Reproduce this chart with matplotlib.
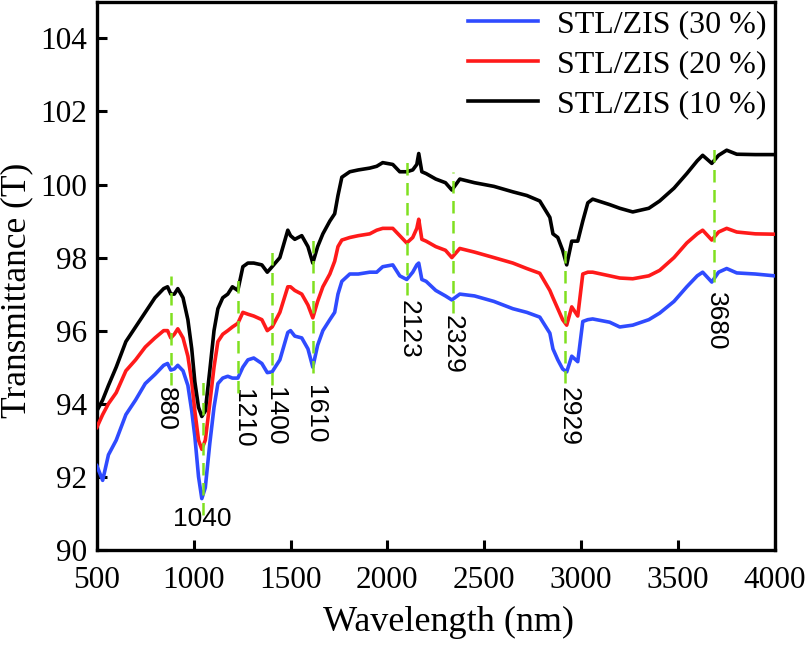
import numpy as np
import matplotlib.pyplot as plt

# ---- data ----
wavelength = [500, 530, 560, 600, 650, 700, 750, 800, 845, 865, 882, 900, 918, 945, 970, 990,
              1006, 1025, 1042, 1060, 1083, 1105, 1125, 1150, 1176, 1200, 1228, 1254, 1280, 1310,
              1352, 1380, 1405, 1445, 1486, 1500, 1522, 1558, 1590, 1615, 1640, 1667, 1703, 1728,
              1745, 1765, 1806, 1850, 1909, 1945, 1976, 2028, 2064, 2100, 2131, 2152, 2162, 2178,
              2200, 2250, 2300, 2333, 2374, 2450, 2550, 2648, 2720, 2787, 2839, 2855, 2880, 2905,
              2926, 2952, 2983, 3009, 3035, 3060, 3148, 3200, 3267, 3350, 3406, 3480, 3546, 3600,
              3628, 3675, 3710, 3752, 3804, 3900, 4000]

stl_10 = [93.8, 94.1, 94.5, 95.0, 95.7, 96.1, 96.5, 96.9, 97.15, 97.2, 97.0, 97.0, 97.15, 96.9,
          96.3, 95.5, 94.6, 93.9, 93.65, 93.8, 94.9, 96.0, 96.6, 96.9, 97.0, 97.2, 97.1, 97.75,
          97.85, 97.85, 97.8, 97.6, 97.75, 98.0, 98.75, 98.6, 98.5, 98.6, 98.3, 97.85, 98.3,
          98.65, 99.0, 99.2, 99.7, 100.2, 100.35, 100.4, 100.45, 100.5, 100.6, 100.55, 100.35,
          100.35, 100.4, 100.55, 100.85, 100.35, 100.3, 100.15, 100.05, 99.85, 100.15, 100.05,
          99.95, 99.8, 99.7, 99.55, 99.1, 98.65, 98.55, 98.2, 97.8, 98.45, 98.45, 99.0, 99.5,
          99.6, 99.45, 99.35, 99.25, 99.35, 99.55, 99.9, 100.3, 100.65, 100.8, 100.58, 100.8,
          100.94, 100.83, 100.82, 100.82]

stl_20 = [93.35, 93.7, 94.0, 94.3, 94.9, 95.2, 95.55, 95.8, 96.0, 96.0, 95.8, 95.9, 96.05, 95.8,
          95.3, 94.6, 93.8, 93.0, 92.75, 93.0, 94.0, 95.0, 95.7, 95.9, 96.0, 96.1, 96.2, 96.5,
          96.45, 96.4, 96.3, 96.0, 96.1, 96.5, 97.2, 97.2, 97.1, 97.0, 96.7, 96.35, 96.8, 97.2,
          97.55, 97.9, 98.3, 98.48, 98.55, 98.6, 98.65, 98.75, 98.8, 98.8, 98.6, 98.4, 98.55,
          98.8, 99.05, 98.5, 98.45, 98.3, 98.2, 98.0, 98.25, 98.15, 98.0, 97.85, 97.7, 97.57,
          97.1, 96.9, 96.6, 96.3, 96.15, 96.65, 96.4, 97.55, 97.6, 97.6, 97.5, 97.44, 97.42,
          97.5, 97.65, 98.0, 98.4, 98.65, 98.75, 98.48, 98.7, 98.8, 98.7, 98.65, 98.64]

stl_30 = [92.3, 91.9, 92.6, 93.0, 93.7, 94.1, 94.55, 94.8, 95.05, 95.1, 94.92, 94.95, 95.05, 94.9,
          94.5, 93.8, 93.1, 92.0, 91.4, 91.7, 92.9, 93.9, 94.55, 94.7, 94.75, 94.7, 94.7, 95.0,
          95.2, 95.25, 95.1, 94.85, 94.87, 95.2, 95.95, 96.0, 95.85, 95.8, 95.5, 95.0, 95.6, 96.0,
          96.3, 96.5, 97.0, 97.35, 97.55, 97.55, 97.6, 97.6, 97.75, 97.8, 97.5, 97.4, 97.6, 97.8,
          97.85, 97.4, 97.35, 97.1, 96.95, 96.84, 97.0, 96.95, 96.8, 96.6, 96.5, 96.37, 95.93,
          95.5, 95.2, 94.95, 94.87, 95.3, 95.15, 96.25, 96.3, 96.32, 96.23, 96.1, 96.15, 96.3,
          96.48, 96.8, 97.2, 97.5, 97.6, 97.33, 97.6, 97.7, 97.58, 97.55, 97.5]

# peak markers: label, dashed line x, line top, line bottom, label x, label top
peak_labels = ["880", "1040", "1210", "1400", "1610", "2123", "2329", "2929", "3680"]
peak_x = [883, 1048, 1227, 1405, 1615, 2099, 2339, 2916, 3688]
peak_top = [97.5, 94.7, 97.55, 98.3, 98.67, 100.8, 100.34, 98.29, 101.16]
peak_bottom = [94.5, 90.95, 94.3, 94.5, 94.84, 96.97, 96.48, 94.56, 97.33]
label_x = [857, 1043, 1255, 1418, 1625, 2109, 2337, 2936, 3695]
label_y = [94.45, 90.85, 94.4, 94.45, 94.5, 96.85, 96.42, 94.45, 97.05]

# =========================
# PLOT
# =========================
plt.rcParams['font.family'] = ['Liberation Serif', 'DejaVu Serif']

fig = plt.figure(figsize=(8.07, 6.46), dpi=100)
ax = fig.add_axes([0.120, 0.149, 0.840, 0.848])

ax.plot(wavelength, stl_30, color="#2f4bff", lw=2.6, label="STL/ZIS (30 %)", zorder=3)
ax.plot(wavelength, stl_20, color="#ff1a1a", lw=2.6, label="STL/ZIS (20 %)", zorder=3)
ax.plot(wavelength, stl_10, color="black", lw=2.6, label="STL/ZIS (10 %)", zorder=3)

for i in range(len(peak_labels)):
    ax.plot([peak_x[i], peak_x[i]], [peak_bottom[i], peak_top[i]], color="#80e020",
            lw=1.8, dashes=(5, 3), zorder=4)
    if peak_labels[i] == "1040":
        ax.text(label_x[i], label_y[i], peak_labels[i], ha="center", va="center",
                fontsize=19, family=["Liberation Sans"])
    else:
        ax.text(label_x[i], label_y[i], peak_labels[i], ha="center", va="top",
                rotation=270, fontsize=19, family=["Liberation Sans"])

ax.set_xlim(500, 4000)
ax.set_ylim(90, 105)
ax.set_xticks(np.arange(500, 4001, 500))
ax.set_yticks(np.arange(90, 105, 2))
ax.tick_params(direction="in", length=7, width=2.2, labelsize=22.5)
ax.tick_params(axis="x", pad=12)
ax.tick_params(axis="y", pad=7)
for s in ax.spines.values():
    s.set_linewidth(2.4)

ax.set_xlabel("Wavelength (nm)", fontsize=26)
ax.xaxis.set_label_coords(0.519, -0.103)
# y label placed on the figure so it sits where the reference has it
fig.text(17 / 807, 1 - 290 / 646, "Transmittance (T)", rotation=90,
         ha="center", va="center", fontsize=25.5)

ax.legend(loc="upper right", frameon=False, fontsize=23, handlelength=2.2,
          handletextpad=0.6, labelspacing=0.33, borderpad=0.05, borderaxespad=0.2)

plt.savefig("out.png", dpi=100)
